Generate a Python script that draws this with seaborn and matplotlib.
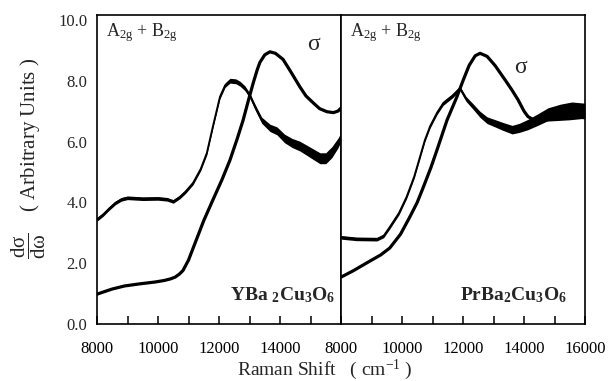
import numpy as np
import pandas as pd
import matplotlib
matplotlib.use("Agg")
import matplotlib.pyplot as plt
import seaborn as sns

# ---------------- data ----------------
# Left panel: YBa2Cu3O6
ybco_raman_x = [8000, 8200, 8400, 8600, 8800, 9000, 9500, 10000, 10300, 10500, 10720,
                10900, 11150, 11400, 11600, 11800, 12030, 12200, 12360, 12550, 12690,
                12850, 13016, 13200, 13400, 13670, 13900, 14150, 14400, 14650, 14980,
                15310, 15500, 15700, 15900, 16000]
ybco_raman_y = [3.44, 3.6, 3.8, 3.98, 4.1, 4.15, 4.12, 4.13, 4.1, 4.03, 4.18,
                4.35, 4.64, 5.1, 5.62, 6.5, 7.47, 7.85, 8.0, 7.98, 7.9,
                7.75, 7.5, 7.1, 6.7, 6.45, 6.35, 6.1, 5.95, 5.85, 5.65,
                5.45, 5.45, 5.65, 5.95, 6.15]
ybco_raman_noise = [0.06, 0.06, 0.06, 0.06, 0.06, 0.06, 0.06, 0.06, 0.06, 0.06, 0.06,
                    0.06, 0.06, 0.06, 0.06, 0.06, 0.07, 0.07, 0.08, 0.08, 0.08,
                    0.08, 0.08, 0.09, 0.1, 0.12, 0.13, 0.14, 0.15, 0.16, 0.17,
                    0.18, 0.18, 0.18, 0.16, 0.14]

ybco_sigma_x = [8000, 8200, 8500, 8900, 9400, 9900, 10200, 10400, 10560, 10700, 10820,
                11000, 11250, 11500, 11800, 12100, 12360, 12600, 12790, 12950, 13115,
                13250, 13340, 13500, 13670, 13850, 14100, 14350, 14650, 14850, 15080,
                15300, 15540, 15750, 15900, 16000]
ybco_sigma_y = [0.98, 1.05, 1.15, 1.25, 1.32, 1.38, 1.43, 1.48, 1.54, 1.64, 1.76,
                2.1, 2.75, 3.4, 4.08, 4.75, 5.39, 6.1, 6.7, 7.3, 7.9,
                8.35, 8.6, 8.85, 8.95, 8.9, 8.7, 8.3, 7.8, 7.5, 7.28,
                7.08, 6.98, 6.95, 7.0, 7.1]

# Right panel: PrBa2Cu3O6
pbco_raman_x = [8000, 8500, 9180, 9400, 9607, 9900, 10150, 10400, 10590, 10750, 10920,
                11150, 11350, 11650, 11900, 12100, 12330, 12550, 12790, 13050, 13300,
                13610, 13850, 14130, 14450, 14790, 15200, 15570, 16000]
pbco_raman_y = [2.85, 2.8, 2.79, 2.9, 3.2, 3.65, 4.18, 4.85, 5.5, 6.05, 6.5,
                6.95, 7.26, 7.5, 7.75, 7.4, 7.15, 6.9, 6.7, 6.6, 6.5,
                6.39, 6.45, 6.56, 6.72, 6.9, 7.0, 7.05, 7.0]
pbco_raman_noise = [0.06, 0.06, 0.06, 0.06, 0.06, 0.06, 0.06, 0.06, 0.06, 0.06, 0.06,
                    0.06, 0.07, 0.07, 0.07, 0.08, 0.09, 0.1, 0.11, 0.12, 0.13,
                    0.14, 0.15, 0.17, 0.19, 0.21, 0.23, 0.25, 0.26]

pbco_sigma_x = [8000, 8400, 8950, 9300, 9600, 9950, 10262, 10500, 10700, 10950, 11150,
                11475, 11800, 12000, 12200, 12400, 12560, 12790, 13050, 13377, 13600,
                13800, 14000, 14130, 14300, 14600, 15000, 15500, 16000]
pbco_sigma_y = [1.54, 1.75, 2.07, 2.27, 2.5, 2.95, 3.53, 4.0, 4.5, 5.15, 5.73,
                6.7, 7.47, 8.0, 8.5, 8.82, 8.9, 8.8, 8.5, 8.03, 7.7,
                7.38, 7.0, 6.82, 6.72, 6.7, 6.72, 6.75, 6.8]

y_ticks = [0, 2, 4, 6, 8, 10]
y_tick_labels = ["0.0", "2.0", "4.0", "6.0", "8.0", "10.0"]
x_ticks_left = [8000, 10000, 12000, 14000]
x_ticks_right = [8000, 10000, 12000, 14000, 16000]
panel_labels = [r"$\mathbf{YBa}$ $\mathbf{_{2}Cu_{3}O_{6}}$", r"$\mathbf{PrBa_{2}Cu_{3}O_{6}}$"]

# ---------------- style ----------------
sns.set_theme(style="ticks")
plt.rcParams["font.family"] = ["Liberation Serif", "DejaVu Serif"]
plt.rcParams["mathtext.fontset"] = "custom"
plt.rcParams["mathtext.rm"] = "Liberation Serif"
plt.rcParams["mathtext.it"] = "Liberation Serif"
plt.rcParams["mathtext.bf"] = "Liberation Serif:bold"
plt.rcParams["mathtext.sf"] = "Liberation Serif"
plt.rcParams["axes.linewidth"] = 1.2

W, H = 610, 381
fig = plt.figure(figsize=(W / 100, H / 100), dpi=100)
ax_top, ax_bot = 15, 324
axL = fig.add_axes([97 / W, 1 - ax_bot / H, 244 / W, (ax_bot - ax_top) / H])
axR = fig.add_axes([341 / W, 1 - ax_bot / H, 244 / W, (ax_bot - ax_top) / H])

panels = [
    (axL, ybco_raman_x, ybco_raman_y, ybco_raman_noise, ybco_sigma_x, ybco_sigma_y,
     x_ticks_left, 15082, 9.18),
    (axR, pbco_raman_x, pbco_raman_y, pbco_raman_noise, pbco_sigma_x, pbco_sigma_y,
     x_ticks_right, 13870, 8.42),
]

for ax, rx, ry, rn, sx, sy, xt, sig_x, sig_y in panels:
    df_r = pd.DataFrame({"x": rx, "y": ry, "n": rn})
    df_s = pd.DataFrame({"x": sx, "y": sy})
    ax.fill_between(df_r["x"], df_r["y"] - df_r["n"], df_r["y"] + df_r["n"],
                    color="black", lw=0)
    sns.lineplot(data=df_r, x="x", y="y", ax=ax, color="black", lw=1.3,
                 estimator=None, sort=False)
    sns.lineplot(data=df_s, x="x", y="y", ax=ax, color="black", lw=2.3,
                 estimator=None, sort=False)
    ax.set_xlim(8000, 16000)
    ax.set_ylim(0, 10.16)
    ax.set_xlabel("")
    ax.set_ylabel("")
    ax.set_xticks(xt)
    ax.set_xticklabels([str(v) for v in xt], fontsize=12)
    ax.set_xticks(np.arange(9000, 16000, 1000), minor=True)
    ax.tick_params(axis="x", which="both", direction="in", length=6, width=1.1,
                   pad=12, colors="black", bottom=True, top=False)
    for s in ax.spines.values():
        s.set_visible(True)
        s.set_color("black")
        s.set_linewidth(1.2)
    ax.text(8290, 9.57, r"A$_{\mathrm{2g}}$ + B$_{\mathrm{2g}}$", fontsize=13,
            va="center", ha="left")
    ax.text(sig_x, sig_y, "σ", fontsize=17, va="center", ha="center")
    ax.set_facecolor("white")

axL.text(15800, 0.95, panel_labels[0], fontsize=14, ha="right", va="center")
axR.text(15410, 0.95, panel_labels[1], fontsize=14, ha="right", va="center")

axL.set_yticks(y_ticks)
axL.set_yticklabels(y_tick_labels, fontsize=12)
axL.tick_params(axis="y", length=0, pad=7)
axR.set_yticks(y_ticks)
axR.tick_params(axis="y", length=0, labelleft=False)

fig.text(0.047, 0.585, r"$\dfrac{\mathrm{d}\sigma}{\mathrm{d}\omega}$    ( Arbitrary Units )",
         rotation=90, fontsize=15, ha="center", va="center")
fig.text(325 / W, 1 - 375 / H, r"Raman Shift   ( cm$^{-1}$ )", fontsize=14,
         ha="center", va="baseline")

fig.patch.set_facecolor("white")
fig.savefig("out.png", dpi=100, facecolor="white")
